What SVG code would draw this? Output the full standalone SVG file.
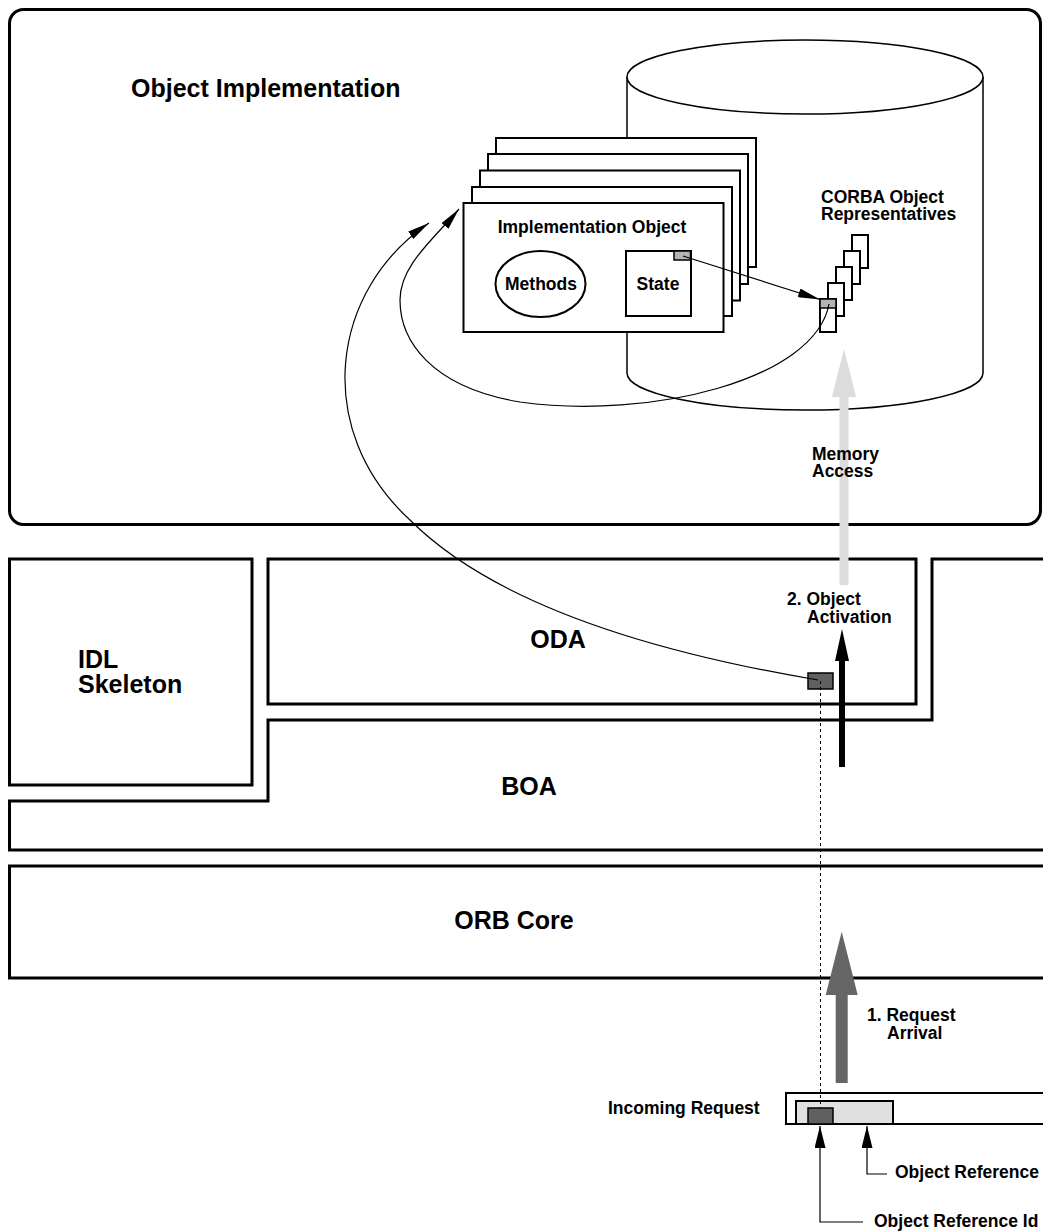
<svg xmlns="http://www.w3.org/2000/svg" width="1043" height="1232" viewBox="0 0 1043 1232">
<style>
  text { font-family: "Liberation Sans", Arial, Helvetica, sans-serif; font-weight: bold; fill: #000; }
  .big { font-size: 25px; }
  .sm { font-size: 17.5px; }
  .thick { fill: none; stroke: #000; stroke-width: 3; stroke-linejoin: miter; }
  .page { fill: #fff; stroke: #000; stroke-width: 2; }
  .thin { fill: none; stroke: #000; stroke-width: 1.2; }
  .rep { fill: #fff; stroke: #000; stroke-width: 2; }
</style>
<defs>
  <marker id="ah" viewBox="0 0 10 10" refX="10" refY="5" markerUnits="userSpaceOnUse" markerWidth="22" markerHeight="9" preserveAspectRatio="none" orient="auto">
    <path d="M0,0 L10,5 L0,10 z" fill="#000"/>
  </marker>
  <marker id="ahs" viewBox="0 0 10 10" refX="10" refY="5" markerUnits="userSpaceOnUse" markerWidth="22" markerHeight="11" preserveAspectRatio="none" orient="auto">
    <path d="M0,0 L10,5 L0,10 z" fill="#000"/>
  </marker>
</defs>
<rect width="1043" height="1232" fill="#fff"/>

<g id="object-implementation">
  <rect x="9.5" y="9.5" width="1031" height="515" rx="14" ry="14" class="thick"/>
  <text class="big" x="131" y="97">Object Implementation</text>
</g>

<g id="memory-cylinder">
  <path d="M627,77 L627,373 A178,37 0 0 0 983,373 L983,77" fill="#fff" stroke="#000" stroke-width="1.5"/>
  <ellipse cx="805" cy="77" rx="178" ry="37" fill="#fff" stroke="#000" stroke-width="1.5"/>
</g>

<g id="implementation-objects">
  <rect class="page" x="496" y="138" width="260" height="129"/>
  <rect class="page" x="488" y="154" width="260" height="130"/>
  <rect class="page" x="480" y="170.5" width="260" height="130"/>
  <rect class="page" x="472" y="187" width="260" height="129"/>
  <rect class="page" x="463.5" y="203" width="260" height="129"/>
  <text class="sm" x="592" y="233" text-anchor="middle">Implementation Object</text>
  <g id="methods">
    <ellipse cx="540.5" cy="284" rx="45" ry="33" fill="#fff" stroke="#000" stroke-width="2"/>
    <text class="sm" x="541" y="290" text-anchor="middle">Methods</text>
  </g>
  <g id="state">
    <rect x="626" y="251" width="65" height="65" fill="#fff" stroke="#000" stroke-width="2"/>
    <rect x="674" y="251" width="16.5" height="9" fill="#b4b4b4" stroke="#000" stroke-width="1.5"/>
    <text class="sm" x="658" y="290" text-anchor="middle">State</text>
  </g>
</g>

<g id="corba-representatives">
  <rect class="rep" x="852" y="235" width="16" height="33"/>
  <rect class="rep" x="844" y="251" width="16" height="33"/>
  <rect class="rep" x="836" y="267" width="16" height="33"/>
  <rect class="rep" x="828" y="283" width="16" height="33"/>
  <rect class="rep" x="820" y="299" width="16" height="33"/>
  <rect x="820" y="299" width="16" height="9" fill="#b4b4b4" stroke="#000" stroke-width="1.5"/>
  <text class="sm"><tspan x="821" y="203">CORBA Object</tspan><tspan x="821" y="220">Representatives</tspan></text>
</g>

<g id="idl-skeleton">
  <rect x="9.5" y="559" width="242.5" height="226" class="thick"/>
  <text class="big"><tspan x="78" y="668">IDL</tspan><tspan x="78" y="693">Skeleton</tspan></text>
</g>

<g id="oda">
  <rect x="268" y="559" width="648" height="145" class="thick"/>
  <text class="big" x="558" y="648" text-anchor="middle">ODA</text>
  <rect x="808" y="673" width="25" height="16" fill="#606060" stroke="#000" stroke-width="1.5"/>
</g>

<g id="boa">
  <path d="M1050,559 H932 V720 H268 V801 H9.5 V850 H1050" class="thick"/>
  <text class="big" x="529" y="795" text-anchor="middle">BOA</text>
</g>

<g id="orb-core">
  <path d="M1050,866 H9.5 V978 H1050" class="thick"/>
  <text class="big" x="514" y="929" text-anchor="middle">ORB Core</text>
</g>

<g id="incoming-request">
  <path d="M1050,1093 H786 V1124 H1050" fill="#fff" stroke="#000" stroke-width="2"/>
  <rect x="796" y="1101" width="97" height="23" fill="#e0e0e0" stroke="#000" stroke-width="2"/>
  <rect x="808" y="1108" width="25" height="16" fill="#606060" stroke="#000" stroke-width="1.5"/>
  <text class="sm" x="608" y="1114">Incoming Request</text>
  <text class="sm" x="895" y="1178">Object Reference</text>
  <text class="sm" x="874" y="1227">Object Reference Id</text>
</g>

<g id="connectors">
  <line x1="683" y1="256" x2="820" y2="299.5" class="thin" marker-end="url(#ah)"/>
  <path d="M829,304 C815,380 650,420 520,402 C430,387 400,340 400,300 C400,265 435,238 459,209" class="thin" marker-end="url(#ah)"/>
  <path d="M818,680 C640,650 490,600 410,520 C312,430 330,290 429,223" class="thin" marker-end="url(#ah)"/>
  <line x1="820.5" y1="681" x2="820.5" y2="1108" stroke="#000" stroke-width="1" stroke-dasharray="3,3"/>
  <polygon points="839.5,585 839.5,397 832,397 844,349 856,397 848.5,397 848.5,585" fill="#dcdcdc"/>
  <text class="sm"><tspan x="812" y="460">Memory</tspan><tspan x="812" y="477">Access</tspan></text>
  <polygon points="839,767 839,661 835,661 842,629 849,661 845,661 845,767" fill="#000"/>
  <text class="sm"><tspan x="787" y="605">2. Object</tspan><tspan x="807" y="623">Activation</tspan></text>
  <polygon points="835.7,1083 835.7,995 825.7,995 841.7,931.7 857.7,995 847.7,995 847.7,1083" fill="#666"/>
  <text class="sm"><tspan x="867" y="1021">1. Request</tspan><tspan x="887" y="1039">Arrival</tspan></text>
  <path d="M863,1222 H820 V1126" class="thin" marker-end="url(#ahs)"/>
  <path d="M887,1174 H867 V1126" class="thin" marker-end="url(#ahs)"/>
</g>
</svg>
